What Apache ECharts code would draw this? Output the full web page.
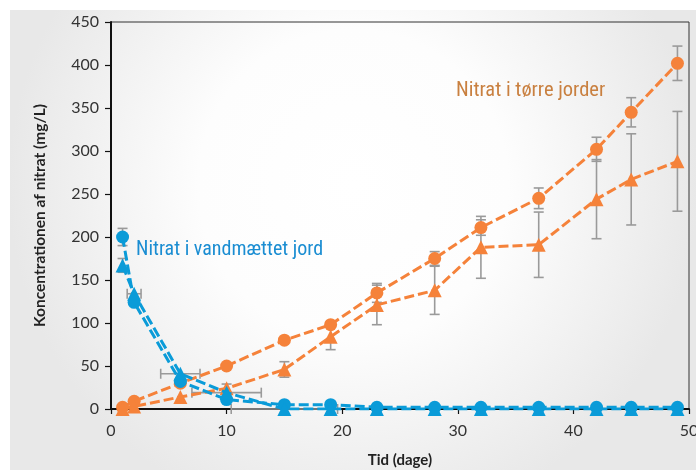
<!DOCTYPE html>
<html>
<head>
<meta charset="utf-8">
<script src="https://cdn.jsdelivr.net/npm/echarts@6/dist/echarts.min.js"></script>
<style>html,body{margin:0;padding:0;background:#fff}#c{width:696px;height:470px}</style>
</head>
<body>
<div id="c"></div>
<script>
const days = [1, 2, 6, 10, 15, 19, 23, 28, 32, 37, 42, 45, 49];
const dryCircle = [2, 9, 30, 50, 80, 98, 135, 175, 211, 245, 302, 345, 402];
const dryCircleErr = [0, 0, 0, 0, 0, 3, 11, 8, 9, 12, 14, 17, 20];
const dryTriangle = [0, 3, 14, 24, 46, 84, 121, 138, 188, 191, 244, 267, 288];
const dryTriangleErr = [0, 0, 0, 5, 9, 15, 23, 28, 36, 38, 46, 53, 58];
const wetCircle = [200, 124, 32, 11, 5, 5, 2, 2, 2, 2, 2, 2, 2];
const wetCircleErr = [10, 0, 0, 0, 0, 0, 0, 0, 0, 0, 0, 0, 0];
const wetTriangle = [167, 134, 41, 19, 0, 0, 0, 0, 0, 0, 0, 0, 0];
const wetTriangleErr = [8, 0, 0, 0, 0, 0, 0, 0, 0, 0, 0, 0, 0];
const wetTriangleXErr = [0, 0.6, 1.7, 3, 4.6, 0, 0, 0, 0, 0, 0, 0, 0];
const xTicks = [0, 10, 20, 30, 40, 50];
const yTicks = [0, 50, 100, 150, 200, 250, 300, 350, 400, 450];
const labelDry = 'Nitrat i tørre jorder';
const labelWet = 'Nitrat i vandmættet jord';

const ORANGE = '#F5823A';
const BLUE = '#0A9BD8';
const ERR = '#9a9a9a';
const tickFont = 'Lato, "Open Sans", sans-serif';
const labelFont = '"Liberation Sans Narrow", "Roboto Condensed", Roboto, sans-serif';

function errSeries(ys, errs, horizontal) {
  const data = days.map((x, i) => [x, ys[i], errs[i]]).filter(d => d[2] > 0);
  return {
    type: 'custom',
    z: 1,
    silent: true,
    encode: { x: 0, y: 1 },
    data: data,
    renderItem: function (params, api) {
      const x = api.value(0), y = api.value(1), e = api.value(2);
      const c = 5;
      const st = { stroke: ERR, lineWidth: 1.6 };
      let a, b, kids;
      if (horizontal) {
        a = api.coord([x - e, y]); b = api.coord([x + e, y]);
        kids = [
          { type: 'line', shape: { x1: a[0], y1: a[1], x2: b[0], y2: b[1] }, style: st },
          { type: 'line', shape: { x1: a[0], y1: a[1] - c, x2: a[0], y2: a[1] + c }, style: st },
          { type: 'line', shape: { x1: b[0], y1: b[1] - c, x2: b[0], y2: b[1] + c }, style: st }
        ];
      } else {
        a = api.coord([x, y - e]); b = api.coord([x, y + e]);
        kids = [
          { type: 'line', shape: { x1: a[0], y1: a[1], x2: b[0], y2: b[1] }, style: st },
          { type: 'line', shape: { x1: a[0] - c, y1: a[1], x2: a[0] + c, y2: a[1] }, style: st },
          { type: 'line', shape: { x1: b[0] - c, y1: b[1], x2: b[0] + c, y2: b[1] }, style: st }
        ];
      }
      return { type: 'group', children: kids };
    }
  };
}

function lineSeries(ys, color, symbol, z) {
  return {
    type: 'line',
    z: z,
    data: days.map((x, i) => [x, ys[i]]),
    symbol: symbol,
    symbolSize: symbol === 'circle' ? 13 : 14,
    showAllSymbol: true,
    itemStyle: { color: color, opacity: 1 },
    lineStyle: { color: color, width: 3, type: [10, 4] },
    emphasis: { disabled: true },
    animation: false
  };
}

const chart = echarts.init(document.getElementById('c'), null, { renderer: 'canvas' });
chart.setOption({
  animation: false,
  backgroundColor: '#ffffff',
  graphic: [
    {
      type: 'rect', z: -100, silent: true,
      shape: { x: 10, y: 10, width: 686, height: 460 },
      style: {
        fill: {
          type: 'radial', x: 0.5, y: 0.38, r: 0.75,
          colorStops: [
            { offset: 0, color: '#ffffff' },
            { offset: 0.45, color: '#fdfdfd' },
            { offset: 1, color: '#e8e8e8' }
          ]
        }
      }
    },
    {
      type: 'text', z: 100, silent: true, left: 456, top: 80,
      style: { text: labelDry, fill: '#C98040', font: '20.5px ' + labelFont }
    },
    {
      type: 'text', z: 100, silent: true, left: 136, top: 240,
      style: { text: labelWet, fill: '#1A8DD2', font: '20px ' + labelFont }
    }
  ],
  grid: {
    left: 111, right: 7, top: 22, bottom: 61,
    containLabel: false, outerBoundsMode: 'none',
    show: true, borderColor: '#333', borderWidth: 1, backgroundColor: 'transparent'
  },
  xAxis: {
    type: 'value', min: 0, max: 50, interval: 10,
    name: 'Tid (dage)', nameLocation: 'middle', nameGap: 44,
    nameTextStyle: { fontFamily: tickFont, fontWeight: 'bold', fontSize: 15, color: '#222' },
    axisLine: { show: true, onZero: false, lineStyle: { color: '#111', width: 2 } },
    axisTick: { show: true, length: 5, lineStyle: { color: '#111', width: 1.2 } },
    axisLabel: { fontFamily: tickFont, fontSize: 16, color: '#333', margin: 14,
      formatter: v => xTicks.includes(v) ? String(v) : '' },
    splitLine: { show: false }
  },
  yAxis: {
    type: 'value', min: 0, max: 450, interval: 50,
    name: 'Koncentrationen af nitrat (mg/L)', nameLocation: 'middle', nameGap: 63,
    nameTextStyle: { fontFamily: tickFont, fontWeight: 'bold', fontSize: 15.5, color: '#222' },
    axisLine: { show: true, lineStyle: { color: '#111', width: 2 } },
    axisTick: { show: true, length: 6, lineStyle: { color: '#111', width: 1.2 } },
    axisLabel: { fontFamily: tickFont, fontSize: 16, color: '#333', margin: 12,
      formatter: v => yTicks.includes(v) ? String(v) : '' },
    splitLine: { show: false }
  },
  series: [
    errSeries(dryCircle, dryCircleErr, false),
    errSeries(dryTriangle, dryTriangleErr, false),
    errSeries(wetCircle, wetCircleErr, false),
    errSeries(wetTriangle, wetTriangleErr, false),
    errSeries(wetTriangle, wetTriangleXErr, true),
    lineSeries(dryCircle, ORANGE, 'circle', 3),
    lineSeries(dryTriangle, ORANGE, 'triangle', 3),
    lineSeries(wetCircle, BLUE, 'circle', 4),
    lineSeries(wetTriangle, BLUE, 'triangle', 4)
  ]
});
</script>
</body>
</html>
